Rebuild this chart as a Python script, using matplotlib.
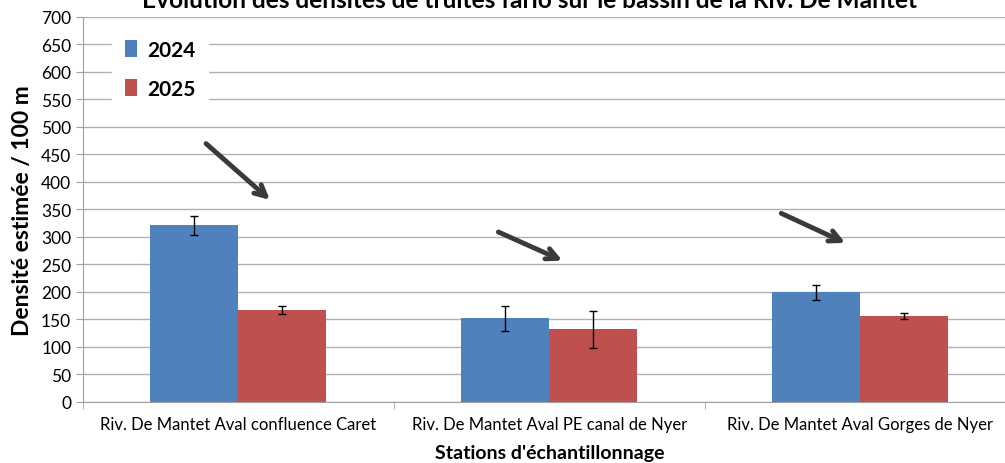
import numpy as np
import matplotlib.pyplot as plt

# Data
stations = ["Riv. De Mantet Aval confluence Caret",
            "Riv. De Mantet Aval PE canal de Nyer",
            "Riv. De Mantet Aval Gorges de Nyer"]
dens_2024 = [321, 152, 199]
err_2024 = [17, 23, 13]
dens_2025 = [167, 132, 156]
err_2025 = [7, 34, 6]

plt.rcParams['font.family'] = ['Lato', 'DejaVu Sans']

fig = plt.figure(figsize=(10.05, 4.64), dpi=100)
ax = fig.add_axes([0.0826, 0.1315, 0.928, 0.830])

x = np.arange(len(stations))
w = 0.283
ax.bar(x - w / 2, dens_2024, w, color='#4F81BD', label='2024', zorder=2)
ax.bar(x + w / 2, dens_2025, w, color='#C0504D', label='2025', zorder=2)
ax.errorbar(x - w / 2, dens_2024, yerr=err_2024, fmt='none', ecolor='black',
            elinewidth=1, capsize=3, capthick=1, zorder=3)
ax.errorbar(x + w / 2, dens_2025, yerr=err_2025, fmt='none', ecolor='black',
            elinewidth=1, capsize=3, capthick=1, zorder=3)

# Arrows showing the decrease
arrows = [((-0.111, 473), (0.108, 364)),
          ((0.828, 311), (1.05, 255)),
          ((1.738, 345), (1.96, 287))]
for (x0, y0), (x1, y1) in arrows:
    ax.annotate('', xy=(x1, y1), xytext=(x0, y0),
                arrowprops=dict(arrowstyle='->,head_length=0.8,head_width=0.4',
                                color='#3a3a3a', lw=3.5), zorder=4)

ax.set_xlim(-0.5, 2.5)
ax.set_ylim(0, 700)
ax.set_yticks(np.arange(0, 701, 50))
ax.set_xticks(x)
ax.set_xticklabels(stations, fontsize=12)
ax.set_xticks([-0.5, 0.5, 1.5, 2.5], minor=True)
ax.tick_params(axis='x', which='major', length=0, pad=10)
ax.tick_params(axis='x', which='minor', length=5, color='#a0a0a0')
ax.tick_params(axis='y', length=5, color='#a0a0a0', labelsize=12.5)
ax.grid(axis='y', color='#b0b0b0', lw=1, zorder=0)
for s in ['top', 'right']:
    ax.spines[s].set_visible(False)
for s in ['left', 'bottom']:
    ax.spines[s].set_color('#a0a0a0')

ax.set_ylabel('Densité estimée / 100 m', fontsize=16.5, fontweight='bold', labelpad=6)
ax.set_xlabel("Stations d'échantillonnage", fontsize=14, fontweight='bold', labelpad=9)

fig.text(0.527, 1 - 8 / 464, "Evolution des densités de truites fario sur le bassin de la Riv. De Mantet",
         ha='center', va='baseline', fontsize=17.6, fontweight='bold')

leg = ax.legend(loc='upper left', bbox_to_anchor=(0.02, 1.0), frameon=True,
                prop={'weight': 'bold', 'size': 15}, handlelength=0.6,
                handleheight=0.9, labelspacing=0.9, handletextpad=0.5, borderpad=0.6)
leg.get_frame().set_edgecolor('white')
leg.get_frame().set_facecolor('white')
leg.get_frame().set_alpha(1)

fig.savefig('out.png', dpi=100)
